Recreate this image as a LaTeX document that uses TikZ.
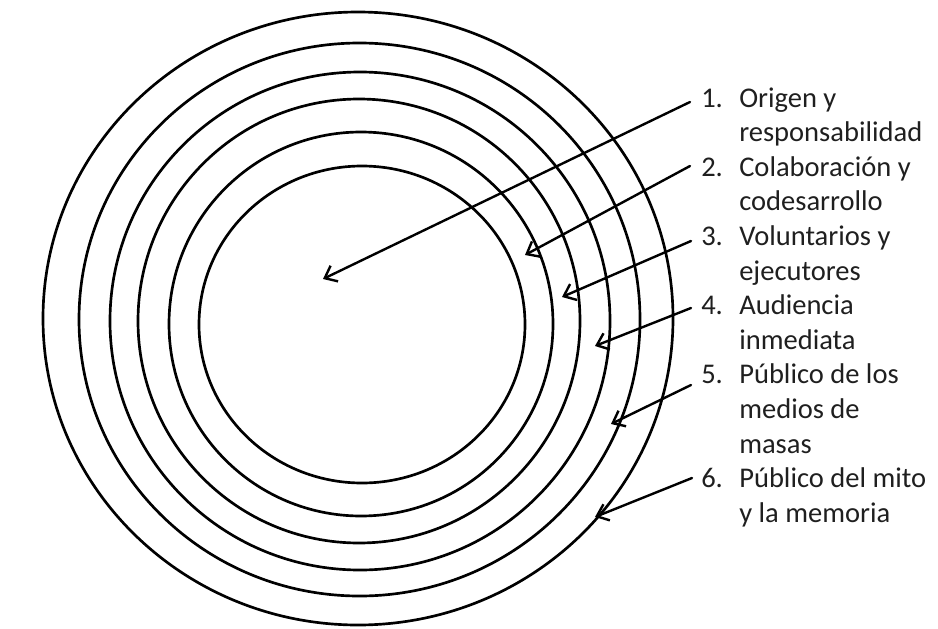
\documentclass[tikz,border=0pt]{standalone}
\usepackage{fontspec}
\setmainfont{Carlito}
\usetikzlibrary{arrows.meta}
\begin{document}
\begin{tikzpicture}[x=0.75pt,y=-0.75pt,
  ring/.style={line width=2pt},
  pointer/.style={line width=1.8pt,line cap=round,
    -{Straight Barb[length=8pt,width=13pt,line width=1.8pt]}},
  labeltext/.style={anchor=base west,inner sep=0pt,align=left,
    font=\fontsize{21.4pt}{25.95pt}\selectfont,text=black!88}]
\useasboundingbox (0,0) rectangle (938,628);

% concentric rings, innermost first
\draw[ring] (362,324.5) ellipse [x radius=163, y radius=158.5];
\draw[ring] (361,324)   ellipse [x radius=192, y radius=192];
\draw[ring] (359,321)   ellipse [x radius=221, y radius=222];
\draw[ring] (360,321)   ellipse [x radius=250, y radius=249];
\draw[ring] (359.5,319.5) ellipse [x radius=280.5, y radius=276.5];
\draw[ring] (358,318.5) ellipse [x radius=315, y radius=306.5];

% numbered legend (a multi-line node sits on the baseline of its last line)
\node[labeltext] (n1) at (701,107)   {1.};
\node[labeltext] (t1) at (739,141.6) {Origen y\\responsabilidad};
\node[labeltext] (n2) at (701,176.2) {2.};
\node[labeltext] (t2) at (739,210.8) {Colaboración y\\codesarrollo};
\node[labeltext] (n3) at (701,245.4) {3.};
\node[labeltext] (t3) at (739,280)   {Voluntarios y\\ejecutores};
\node[labeltext] (n4) at (701,314.6) {4.};
\node[labeltext] (t4) at (739,349.2) {Audiencia\\inmediata};
\node[labeltext] (n5) at (701,383.8) {5.};
\node[labeltext] (t5) at (739,453)   {Público de los\\medios de\\masas};
\node[labeltext] (n6) at (701,487.6) {6.};
\node[labeltext] (t6) at (739,522.2) {Público del mito\\y la memoria};

% pointer start points beside the numbers and their targets on the rings
\coordinate (s1) at (690,102);
\coordinate (s2) at (690,166);
\coordinate (s3) at (691,241);
\coordinate (s4) at (691,308);
\coordinate (s5) at (691,385);
\coordinate (s6) at (692,478);
\coordinate (e1) at (323,279);
\coordinate (e2) at (525,255);
\coordinate (e3) at (562,297);
\coordinate (e4) at (595,346);
\coordinate (e5) at (611,424);
\coordinate (e6) at (595,517);

\foreach \i in {1,...,6} \draw[pointer] (s\i) -- (e\i);
\end{tikzpicture}
\end{document}
